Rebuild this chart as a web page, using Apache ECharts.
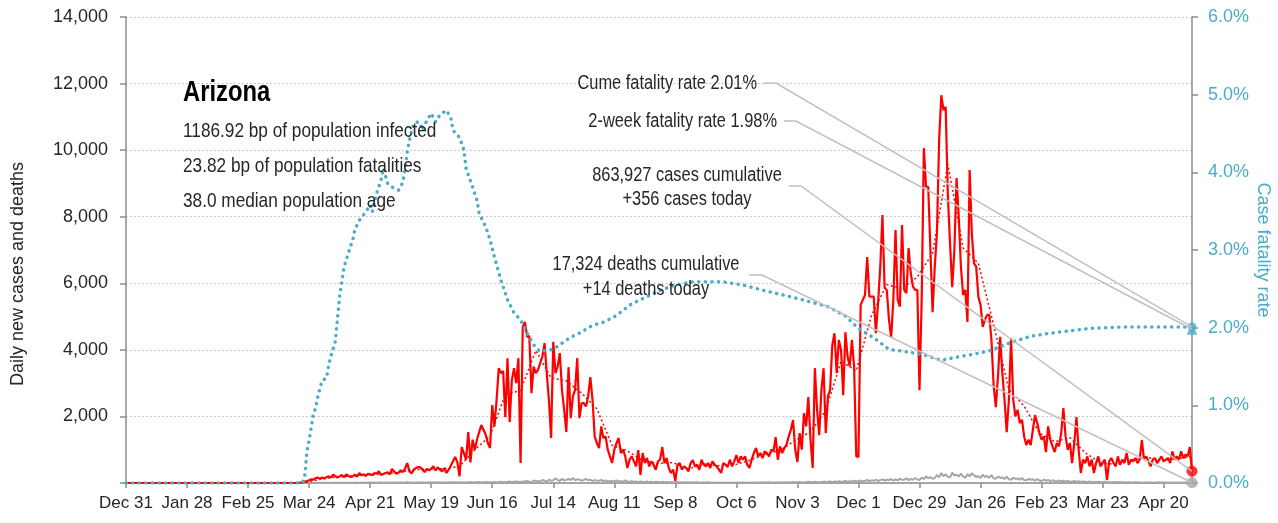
<!DOCTYPE html>
<html>
<head>
<meta charset="utf-8">
<title>Arizona</title>
<script src="https://cdn.jsdelivr.net/npm/echarts@6/dist/echarts.min.js"></script>
<style>
  html, body { margin: 0; padding: 0; background: #fff; }
  #chart { width: 1278px; height: 523px; }
</style>
</head>
<body>
<div id="chart"></div>
<script>
// day 0 of the x axis
const startDate = [2019, 11, 31];
const monthNames = ["Jan", "Feb", "Mar", "Apr", "May", "Jun", "Jul", "Aug", "Sep", "Oct", "Nov", "Dec"];
const labelEvery = 28;

// daily new cases, one row per week starting Dec 31 2019
const cases = [
  0,0,0,0,0,0,0, 0,0,0,0,0,0,0, 0,0,0,0,0,0,0, 0,0,0,0,0,0,0,
  0,0,0,0,0,0,0, 0,0,0,0,0,0,0, 0,0,0,0,0,0,0, 0,0,0,0,0,0,0,
  0,0,0,0,0,0,0, 0,0,0,0,0,0,0, 0,0,0,0,0,0,0,
  0,2,5,10,20,40,60,
  80,110,100,150,160,130,170,
  130,180,200,160,250,210,160,
  200,240,170,260,220,180,200,
  250,190,300,230,260,210,280,
  260,230,300,280,350,240,270,
  300,320,260,420,340,280,310,
  380,330,430,600,350,290,400,
  450,480,470,400,330,420,380,
  430,500,380,470,400,350,450,
  300,400,520,650,780,620,200,
  1080,900,700,1530,620,1300,1000,
  1300,1530,1740,1600,1450,1200,1050,
  2340,1700,2500,3450,3300,3360,1980,
  3750,1830,3090,3450,3000,3750,600,
  4690,4840,4390,4420,2700,3500,3300,
  3400,3600,3800,4200,3300,2500,1350,
  4240,3300,3500,3900,2790,2200,1530,
  3480,1950,2600,2800,3750,1950,2400,
  2400,2300,2600,3180,2500,1400,1200,
  1050,1700,1350,1400,1000,800,600,
  1000,1200,1350,900,1000,800,450,
  700,800,650,500,990,240,900,
  600,750,500,650,550,400,650,
  700,1080,600,750,450,300,400,
  60,550,600,400,500,450,350,
  600,690,500,550,400,700,550,
  500,600,450,650,550,500,400,
  300,600,550,480,700,500,650,
  840,600,800,700,800,550,450,
  700,900,1050,800,900,750,950,
  900,800,1000,950,1380,700,1100,
  900,1050,1150,1400,1600,1890,1000,
  630,1500,1000,2100,1700,2580,1300,
  450,3450,2200,1440,2800,3450,1500,
  2600,2800,4140,4500,3300,4300,4000,
  2640,4530,3800,3500,4300,3500,800,
  780,5350,5500,5650,6790,5600,5600,
  5600,4500,5400,6500,8050,5860,5800,
  4900,4360,5500,7600,5500,5300,7750,
  5800,5700,7060,6300,5900,5800,5800,
  2790,5500,10060,8900,8900,7000,5130,
  6500,7500,10300,11650,11200,11300,8650,
  7200,5880,7000,9160,8000,6500,5650,
  5800,4840,9400,7500,6600,6500,5600,
  5350,4690,4900,5050,5050,4300,2940,
  2280,3200,4390,3300,2500,1530,2500,
  4350,2500,2000,2200,1800,1900,1400,
  1140,1300,1140,1600,2040,1800,1500,
  1300,1400,930,1700,1300,1100,930,
  1200,1100,1500,2250,1400,1000,1200,
  600,1200,1980,1000,300,700,600,
  800,500,700,300,600,800,500,
  600,700,90,650,750,600,500,
  800,550,700,600,900,550,700,
  650,750,600,700,1290,700,800,
  650,500,700,750,600,700,800,
  650,700,750,600,950,700,800,
  700,950,750,850,800,1080,356
];

// 7-day average of cases, read at the end of each week
const avgDays = [0,76,83,90,97,104,111,118,125,132,139,146,153,160,167,174,181,188,195,202,209,216,223,230,237,244,251,258,265,272,279,286,293,300,307,314,321,328,335,342,349,356,363,370,377,384,391,398,405,412,419,426,433,440,447,454,461,468,475,482,489];
const avgCases = [0,0,20,130,185,210,245,275,320,400,420,430,500,1000,1410,2660,2780,3980,3160,3070,2700,2230,1130,960,680,590,610,420,570,520,540,680,860,980,1280,1540,2180,3660,3370,5040,5960,5840,6190,6900,9580,7060,6600,4750,2810,2310,1500,1240,1360,910,600,560,690,780,670,740,780];

// daily new deaths, one row per week
const deaths = [
  0,0,0,0,0,0,0, 0,0,0,0,0,0,0, 0,0,0,0,0,0,0, 0,0,0,0,0,0,0,
  0,0,0,0,0,0,0, 0,0,0,0,0,0,0, 0,0,0,0,0,0,0, 0,0,0,0,0,0,0,
  0,0,0,0,0,0,0, 0,0,0,0,0,0,0, 0,0,0,0,0,0,0,
  0,0,0,0,0,0,1,
  2,1,3,2,4,3,5,
  4,6,3,7,5,6,8,
  9,7,10,6,11,8,9,
  10,12,8,14,9,11,13,
  12,10,15,9,14,13,11,
  16,12,10,18,14,9,15,
  13,17,11,19,12,15,10,
  18,14,20,12,16,11,19,
  15,20,13,17,22,14,18,
  16,21,14,19,23,12,18,
  20,25,17,22,27,15,24,
  22,28,18,26,30,21,25,
  24,30,20,28,40,25,32,
  30,44,26,38,45,28,40,
  35,50,60,40,25,80,55,
  60,45,90,70,40,100,65,
  80,140,90,60,130,75,95,
  120,90,150,85,110,100,70,
  90,130,80,100,60,85,75,
  70,90,55,80,45,65,50,
  55,75,40,60,35,80,45,
  40,55,30,50,25,45,35,
  30,45,25,40,20,35,28,
  25,35,20,30,15,28,22,
  18,28,15,25,12,20,16,
  15,22,12,20,10,18,14,
  12,20,10,16,8,14,11,
  10,16,8,14,9,12,10,
  12,15,9,13,10,14,8,
  14,18,10,16,12,20,13,
  16,22,12,18,14,25,15,
  18,24,14,20,16,28,19,
  22,30,18,26,20,35,24,
  28,36,22,32,25,42,30,
  35,48,30,42,33,55,40,
  45,60,38,52,40,70,50,
  55,75,48,65,90,60,80,
  70,95,60,85,110,75,100,
  85,120,70,105,80,130,95,
  100,140,85,120,95,150,110,
  90,160,120,200,140,180,130,
  150,240,170,300,200,260,180,
  170,310,220,250,200,280,190,
  160,260,200,290,230,180,210,
  150,250,180,210,160,240,140,
  130,200,150,170,120,190,110,
  100,160,120,140,95,150,90,
  80,130,95,110,70,120,75,
  60,100,70,90,55,85,60,
  50,80,55,70,40,65,45,
  40,60,35,55,30,45,35,
  30,45,25,40,20,35,28,
  25,35,20,30,15,28,22,
  20,30,15,25,12,22,18,
  18,25,12,20,10,16,14,
  15,22,10,18,12,20,14,
  12,18,10,16,11,15,13,
  10,16,12,18,9,15,14
];

// case fatality rate (%), right axis
const cfrDays = [0,81,82,83,84,85,86,87,88,89,90,92,93,94,95,96,97,98,100,102,104,105,107,110,112,113,115,117,118,120,122,125,127,128,129,130,132,134,135,136,138,140,142,144,146,147,149,150,153,155,156,159,161,162,165,167,169,172,175,178,181,184,187,190,193,196,199,202,205,208,211,214,219,224,227,231,236,245,252,260,274,283,291,306,317,322,330,336,343,350,358,366,374,381,389,396,405,415,427,442,458,473,489];
const cfrPct = [0,0,0.1,0.4,0.55,0.72,0.9,0.96,1.11,1.22,1.32,1.35,1.52,1.63,1.73,1.82,2.12,2.4,2.78,2.96,3.13,3.26,3.38,3.49,3.58,3.49,3.73,3.9,4.05,3.86,3.81,3.77,3.87,4.05,4.26,4.41,4.63,4.65,4.63,4.54,4.67,4.76,4.65,4.74,4.78,4.8,4.7,4.54,4.45,4.29,4.05,3.81,3.64,3.47,3.3,3.13,2.91,2.61,2.36,2.19,2.1,1.93,1.78,1.69,1.71,1.72,1.78,1.84,1.89,1.93,1.98,2.03,2.07,2.14,2.2,2.29,2.36,2.48,2.55,2.59,2.59,2.55,2.49,2.39,2.31,2.27,2.15,1.99,1.87,1.72,1.69,1.65,1.58,1.62,1.66,1.70,1.80,1.89,1.94,1.99,2.01,2.01,2.01];

// summary numbers
const stateName = "Arizona";
const infoLines = ["1186.92 bp of population infected", "23.82 bp of population fatalities", "38.0 median population age"];
const cumeRate = 2.01;
const twoWeekRate = 1.98;
const casesCumulative = "863,927";
const deathsCumulative = "17,324";
const casesToday = 356;
const deathsToday = 14;

// axis ranges
const casesMax = 14000, casesStep = 2000;
const rateMax = 6, rateStep = 1;

const RED = "#ff0000";
const TEAL = "#4bacc6";
const GRAY = "#a6a6a6";
const TEXT = "#262626";
const SANS = "'Liberation Sans', Arial, sans-serif";
// the original uses a condensed face; squeeze Liberation Sans to get close
const SQUEEZE = 0.82;

// category labels
const days = cases.map(function (v, i) {
  const d = new Date(startDate[0], startDate[1], startDate[2] + i);
  return monthNames[d.getMonth()] + " " + d.getDate();
});
const lastDay = cases.length - 1;
const showEvery = function (idx) { return idx % labelEvery === 0; };

const chart = echarts.init(document.getElementById("chart"));

const option = {
  animation: false,
  grid: { left: 126, right: 86, top: 17, bottom: 40 },
  xAxis: {
    type: "category",
    data: days,
    boundaryGap: false,
    axisLine: { lineStyle: { color: "#8c8c8c", width: 1.5 } },
    axisTick: { interval: showEvery, length: 5, lineStyle: { color: "#8c8c8c", width: 1.5 } },
    axisLabel: { interval: showEvery, color: TEXT, fontFamily: SANS, fontSize: 17, margin: 12 },
    splitLine: { show: false }
  },
  yAxis: [
    {
      type: "value",
      min: 0, max: casesMax, interval: casesStep,
      axisLine: { show: true, lineStyle: { color: "#8c8c8c", width: 1.5 } },
      axisTick: { show: true, length: 6, lineStyle: { color: "#8c8c8c", width: 1.5 } },
      axisLabel: {
        color: TEXT, fontFamily: SANS, fontSize: 18, margin: 18,
        // the zero line has no label in the original
        formatter: function (v) { return v === 0 ? "" : v.toLocaleString("en-US"); }
      },
      splitLine: { lineStyle: { color: "#b8b8b8", type: [1.5, 2.5] } }
    },
    {
      type: "value",
      min: 0, max: rateMax, interval: rateStep,
      position: "right",
      axisLine: { show: true, lineStyle: { color: "#8c8c8c", width: 1.5 } },
      axisTick: { show: true, length: 6, lineStyle: { color: "#8c8c8c", width: 1.5 } },
      axisLabel: {
        color: TEAL, fontFamily: SANS, fontSize: 18, margin: 16,
        formatter: function (v) { return v.toFixed(1) + "%"; }
      },
      splitLine: { show: false }
    }
  ],
  series: [
    {
      name: "deaths",
      type: "line",
      data: deaths,
      symbol: "none",
      lineStyle: { color: GRAY, width: 2 },
      z: 2
    },
    {
      name: "cases",
      type: "line",
      data: cases,
      symbol: "none",
      lineStyle: { color: RED, width: 2.2 },
      z: 3
    },
    {
      name: "cases 7-day avg",
      type: "line",
      data: avgDays.map(function (d, i) { return [d, avgCases[i]]; }),
      symbol: "none",
      lineStyle: { color: RED, width: 1.5, type: [2, 2.5] },
      z: 4
    },
    {
      name: "case fatality rate",
      type: "line",
      yAxisIndex: 1,
      data: cfrDays.map(function (d, i) { return [d, cfrPct[i]]; }),
      symbol: "none",
      lineStyle: { color: TEAL, width: 3.5, type: [0.1, 6.5], cap: "round" },
      z: 5
    },
    {
      name: "end markers cases",
      type: "scatter",
      data: [[lastDay, casesToday]],
      symbol: "circle", symbolSize: 11,
      itemStyle: { color: RED },
      z: 6
    },
    {
      name: "end markers deaths",
      type: "scatter",
      data: [[lastDay, deathsToday]],
      symbol: "circle", symbolSize: 11,
      itemStyle: { color: GRAY },
      z: 6
    },
    {
      name: "end markers rate",
      type: "scatter",
      yAxisIndex: 1,
      data: [
        { value: [lastDay, twoWeekRate], symbol: "triangle", symbolSize: 11 },
        { value: [lastDay, cumeRate], symbol: "circle", symbolSize: 9 }
      ],
      itemStyle: { color: TEAL },
      z: 6
    }
  ]
};

chart.setOption(option);

// annotation texts and their leader lines
function label(text, x, y, size, align) {
  return {
    type: "text", x: x, y: y, z: 20, scaleX: SQUEEZE,
    style: {
      text: text, fill: TEXT, fontFamily: SANS, fontSize: size,
      align: align, verticalAlign: "middle"
    }
  };
}
function leader(points) {
  return {
    type: "polyline", z: 15,
    shape: { points: points },
    style: { stroke: "#c0c0c0", lineWidth: 1.5, fill: null }
  };
}

const pCume = chart.convertToPixel({ xAxisIndex: 0, yAxisIndex: 1 }, [lastDay, cumeRate]);
const pTwoWeek = chart.convertToPixel({ xAxisIndex: 0, yAxisIndex: 1 }, [lastDay, twoWeekRate]);
const pCases = chart.convertToPixel({ xAxisIndex: 0, yAxisIndex: 0 }, [lastDay, casesToday]);
const pDeaths = chart.convertToPixel({ xAxisIndex: 0, yAxisIndex: 0 }, [lastDay, deathsToday]);

const titleEl = label(stateName, 183, 93, 29, "left");
titleEl.style.fontWeight = "bold";
titleEl.style.fill = "#000";

chart.setOption({
  graphic: [
    titleEl,
    label(infoLines[0], 183, 131, 21, "left"),
    label(infoLines[1], 183, 166, 21, "left"),
    label(infoLines[2], 183, 201, 21, "left"),

    label("Cume fatality rate " + cumeRate.toFixed(2) + "%", 757, 83, 20, "right"),
    label("2-week fatality rate " + twoWeekRate.toFixed(2) + "%", 777, 121, 20, "right"),
    label(casesCumulative + " cases cumulative", 687, 175, 20, "center"),
    label("+" + casesToday + " cases today", 687, 199, 20, "center"),
    label(deathsCumulative + " deaths cumulative", 646, 264, 20, "center"),
    label("+" + deathsToday + " deaths today", 646, 289, 20, "center"),

    leader([[764, 83], [776, 83], pCume]),
    leader([[784, 121], [796, 121], pTwoWeek]),
    leader([[789, 186], [801, 186], pCases]),
    leader([[749, 275], [762, 275], pDeaths]),

    {
      type: "text", x: 18, y: 274, rotation: Math.PI / 2, z: 20,
      style: {
        text: "Daily new cases and deaths", fill: TEXT, fontFamily: SANS,
        fontSize: 18, align: "center", verticalAlign: "middle"
      }
    },
    {
      type: "text", x: 1263, y: 250, rotation: -Math.PI / 2, z: 20,
      style: {
        text: "Case fatality rate", fill: TEAL, fontFamily: SANS,
        fontSize: 18, align: "center", verticalAlign: "middle"
      }
    }
  ]
});
</script>
</body>
</html>
